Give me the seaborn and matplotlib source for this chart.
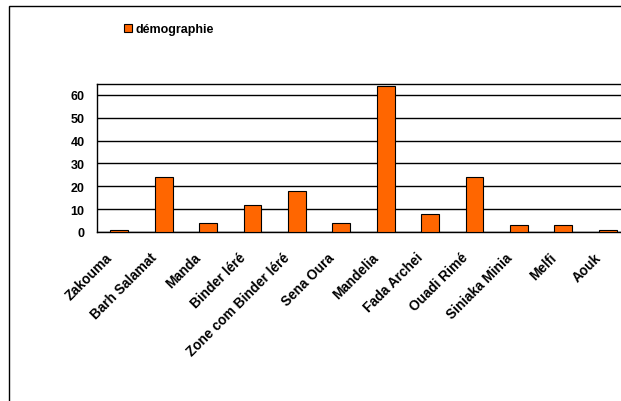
import matplotlib
matplotlib.use("Agg")
import matplotlib.pyplot as plt
import matplotlib.patches as mpatches
import matplotlib.transforms as mtransforms
import seaborn as sns
import pandas as pd

categories = ["Zakouma", "Barh Salamat", "Manda", "Binder léré", "Zone com Binder léré",
              "Sena Oura", "Mandelia", "Fada Archei", "Ouadi Rimé", "Siniaka Minia",
              "Melfi", "Aouk"]
demographie = [1, 24, 4, 12, 18, 4, 64, 8, 24, 3, 3, 1]
series_name = "démographie"
yticks = [0, 10, 20, 30, 40, 50, 60]

df = pd.DataFrame({"zone": categories, "valeur": demographie})

sns.set_theme(style="white")
plt.rcParams["font.family"] = ["Liberation Sans", "DejaVu Sans"]
plt.rcParams["font.weight"] = "bold"
plt.rcParams["text.color"] = "black"
plt.rcParams["xtick.color"] = "black"
plt.rcParams["ytick.color"] = "black"
plt.rcParams["axes.labelcolor"] = "black"

W, H = 621, 402
fig = plt.figure(figsize=(W / 100, H / 100), dpi=100)
fig.patch.set_facecolor("white")

# outer chart frame (left and top edges visible)
fig.add_artist(mpatches.Rectangle((9 / W, -0.1), 1.2, (H - 7) / H + 0.1,
                                  transform=fig.transFigure, fill=False,
                                  edgecolor="black", linewidth=1.0))

left, right_px, top_px, bottom_px = 97, 630, 85, 233
ax = fig.add_axes([left / W, (H - bottom_px) / H,
                   (right_px - left) / W, (bottom_px - top_px) / H])

sns.barplot(data=df, x="zone", y="valeur", color="#FF6600", saturation=1,
            edgecolor="black", linewidth=0.8, width=0.4, label=series_name,
            ax=ax, zorder=3)

ax.set_ylim(0, 64.8)
ax.set_yticks(yticks)
ax.set_yticklabels([str(t) for t in yticks], fontsize=9, fontweight="bold",
                   color="black")
ax.set_xlabel("")
ax.set_ylabel("")
ax.yaxis.grid(True, color="black", linewidth=1.0, zorder=0)
ax.set_axisbelow(True)
ax.tick_params(axis="y", length=0, pad=9)
ax.tick_params(axis="x", length=0, pad=13)
for side in ["left", "bottom", "top"]:
    ax.spines[side].set_color("black")
    ax.spines[side].set_linewidth(1.0)
ax.spines["right"].set_visible(False)

shift = mtransforms.ScaledTranslation(-3 / 72, 0, fig.dpi_scale_trans)
for lab in ax.get_xticklabels():
    lab.set_rotation(45)
    lab.set_ha("right")
    lab.set_va("top")
    lab.set_fontsize(9.8)
    lab.set_fontweight("bold")
    lab.set_color("black")
    lab.set_transform(lab.get_transform() + shift)

ax.legend(loc="upper left", bbox_to_anchor=(124 / W, (H - 24) / H),
          bbox_transform=fig.transFigure, frameon=False,
          prop={"weight": "bold", "size": 9},
          handlelength=0.6, handleheight=0.6, handletextpad=0.35,
          borderaxespad=0, borderpad=0, labelcolor="black")

fig.savefig("out.png", dpi=100, facecolor="white")
